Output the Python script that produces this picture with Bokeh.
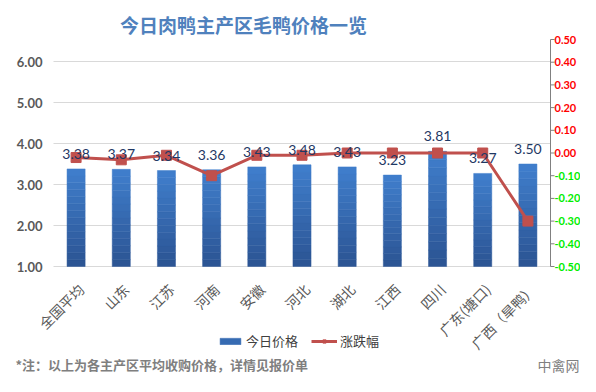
import math
from bokeh.plotting import figure
from bokeh.models import Range1d, Label, Legend, LegendItem, ColumnDataSource
from bokeh.embed import file_html
from bokeh.resources import INLINE
from bokeh.core.properties import value

# ---------------- data ----------------
categories = ["全国平均", "山东", "江苏", "河南", "安徽", "河北", "湖北", "江西", "四川", "广东(塘口)", "广西（旱鸭）"]
prices = [3.38, 3.37, 3.34, 3.36, 3.43, 3.48, 3.43, 3.23, 3.81, 3.27, 3.50]
changes = [-0.02, -0.03, -0.01, -0.10, -0.01, -0.01, 0.00, 0.00, 0.00, 0.00, -0.30]
left_ticks = [1, 2, 3, 4, 5, 6]
left_labels = ["1.00", "2.00", "3.00", "4.00", "5.00", "6.00"]
right_ticks = [0.5, 0.4, 0.3, 0.2, 0.1, 0.0, -0.1, -0.2, -0.3, -0.4, -0.5]
right_labels = ["0.50", "0.40", "0.30", "0.20", "0.10", "0.00", "-0.10", "-0.20", "-0.30", "-0.40", "-0.50"]
title_text = "今日肉鸭主产区毛鸭价格一览"
note_text = "*注：以上为各主产区平均收购价格，详情见报价单"
brand_text = "中禽网"
series_names = ["今日价格", "涨跌幅"]

CJK = "Noto Sans CJK SC"
NUM = "Lato"

# ---------------- layout ----------------
W, H = 580, 376
FL, FR, FT, FB = 53, 550, 39, 266      # plotting-area edges (canvas px)
L_MIN, L_TOP = 1.0, 6.537              # left value range shown in plotting area
R_MIN, R_MAX = -0.5, 0.5               # right value range
ncat = len(categories)
band = (FR - FL) / ncat
lpx = (FB - FT) / (L_TOP - L_MIN)
rpx = (FB - FT) / (R_MAX - R_MIN)

p = figure(x_range=Range1d(-FL / band, ncat + (W - FR) / band),
           y_range=Range1d(L_MIN - (H - FB) / lpx, L_TOP + FT / lpx),
           width=W, height=H, output_backend="svg", toolbar_location=None,
           x_axis_location=None, y_axis_location=None, min_border=0)
p.extra_y_ranges = {"r": Range1d(R_MIN - (H - FB) / rpx, R_MAX + FT / rpx)}
p.outline_line_color = None
p.grid.visible = False
p.background_fill_color = "white"
p.border_fill_color = "white"

xs = [i + 0.5 for i in range(ncat)]

# gridlines + left tick labels
p.segment(x0=0, x1=ncat, y0=left_ticks, y1=left_ticks, line_color="#D9D9D9", line_width=1)
p.text(x=0, y=left_ticks, text=left_labels, x_offset=-11, text_align="right",
       text_baseline="middle", text_font=value(NUM), text_font_style="bold",
       text_font_size="13px", text_color="#595959")

# gradient bars built from the price list
nseg = 14
bot_c = (0x2B, 0x53, 0x92)
top_c = (0x40, 0x7F, 0xCD)
sx, sb, st, sc = [], [], [], []
for x, v in zip(xs, prices):
    for k in range(nseg):
        sx.append(x)
        sb.append(L_MIN + (v - L_MIN) * k / nseg)
        st.append(L_MIN + (v - L_MIN) * (k + 1) / nseg)
        t = (k + 0.5) / nseg
        rgb = tuple(int(round(b + (a - b) * t)) for a, b in zip(top_c, bot_c))
        sc.append("#%02x%02x%02x" % rgb)
seg = ColumnDataSource(dict(x=sx, bottom=sb, top=st, color=sc))
bars = p.vbar(x="x", bottom="bottom", top="top", width=0.4, source=seg,
              fill_color="color", line_color="color", line_width=0.5)

# category labels (rotated)
p.text(x=xs, y=L_MIN, text=categories, angle=math.pi / 4, x_offset=5, y_offset=20,
       text_align="right", text_baseline="middle", text_font=value(CJK),
       text_font_size="14px", text_color="#595959")

# right axis: line, ticks, coloured labels
p.segment(x0=ncat, x1=ncat, y0=min(right_ticks), y1=max(right_ticks), y_range_name="r",
          line_color="#808080", line_width=1)
p.ray(x=ncat, y=right_ticks, length=4, length_units="screen", angle=0, y_range_name="r",
      line_color="#808080", line_width=1)
p.text(x=ncat, y=right_ticks, text=right_labels, x_offset=4, y_range_name="r",
       text_align="left", text_baseline="middle", text_font=value(NUM), text_font_style="bold",
       text_font_size="11px",
       text_color=["#FF0000" if v >= 0 else "#00EE00" for v in right_ticks])

# change line
line_r = p.line(x=xs, y=changes, y_range_name="r", line_color="#C0504D", line_width=3)
sq_r = p.scatter(x=xs, y=changes, y_range_name="r", marker="square", size=10,
                 fill_color="#C0504D", line_color="#C0504D")

# data labels
p.text(x=xs, y=prices, text=["%.2f" % v for v in prices], y_offset=-15,
       text_align="center", text_baseline="middle", text_font=value(NUM),
       text_font_size="14px", text_color="#1F3864")

# legend
legend = Legend(items=[LegendItem(label=series_names[0], renderers=[bars], index=nseg // 2),
                       LegendItem(label=series_names[1], renderers=[line_r, sq_r])],
                orientation="horizontal", location=(217, 26), margin=0, padding=2,
                border_line_color=None, background_fill_alpha=0,
                glyph_width=26, glyph_height=8, label_standoff=3, spacing=13,
                label_text_font=CJK, label_text_font_size="13px", label_text_color="#404040",
                label_height=16)
p.add_layout(legend, "center")

# title, footnote, brand
p.add_layout(Label(x=243, y=H - 24, x_units="screen", y_units="screen", text=title_text,
                   text_align="center", text_baseline="middle", text_font=CJK,
                   text_font_style="bold", text_font_size="19px", text_color="#4F81BD"))
p.add_layout(Label(x=15, y=H - 364, x_units="screen", y_units="screen", text=note_text,
                   text_align="left", text_baseline="middle", text_font=CJK,
                   text_font_style="bold", text_font_size="13px", text_color="#7F7F7F"))
p.add_layout(Label(x=537, y=H - 364, x_units="screen", y_units="screen", text=brand_text,
                   text_align="left", text_baseline="middle", text_font=CJK,
                   text_font_size="14px", text_color="#808080"))

open("out.html", "w").write(file_html(p, INLINE))
